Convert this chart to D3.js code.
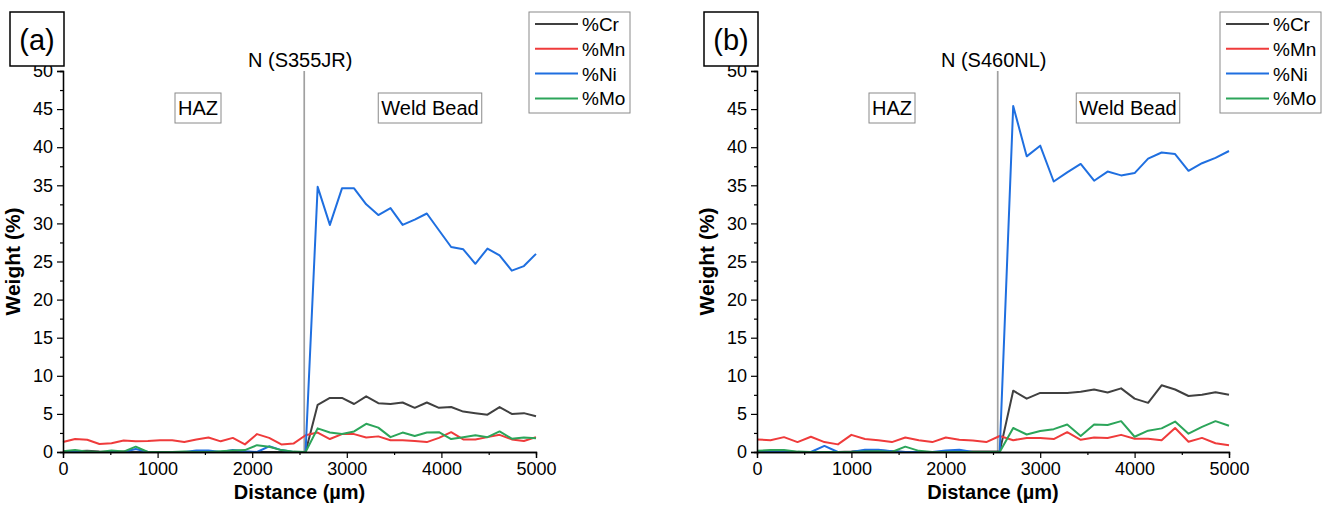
<!DOCTYPE html>
<html>
<head>
<meta charset="utf-8">
<script src="https://cdn.jsdelivr.net/npm/d3@7"></script>
<style>
  html, body { margin: 0; padding: 0; background: #fff; }
  svg { display: block; font-family: Arial, "Liberation Sans", sans-serif; }
</style>
</head>
<body>
<svg id="chart" width="1331" height="515"></svg>
<script>
// ---------------- data ----------------
const seriesNames = ["%Cr", "%Mn", "%Ni", "%Mo"];
const seriesColors = ["#404040", "#ef3b3b", "#1f6fe0", "#2ca55a"];

const distA = [0,128,256,385,513,641,769,897,1026,1154,1282,1410,1538,1667,1795,1923,2051,2179,2308,2436,
               2564,2692,2821,2949,3077,3205,3333,3462,3590,3718,3846,3974,4103,4231,4359,4487,4615,4744,4872,5000];
const crA = [0.1,0.1,0.15,0.05,0,0.05,0,0,0,0,0,0,0,0,0,0,0,0,0,0,
             0,6.2,7.1,7.1,6.3,7.3,6.4,6.3,6.5,5.8,6.5,5.8,5.9,5.3,5.1,4.9,5.9,5.0,5.1,4.7];
const mnA = [1.3,1.7,1.6,1.05,1.15,1.5,1.4,1.45,1.55,1.55,1.3,1.65,1.9,1.4,1.85,1.0,2.35,1.85,1.0,1.1,
             2.2,2.55,1.7,2.35,2.35,1.9,2.05,1.55,1.55,1.45,1.3,1.85,2.6,1.65,1.65,1.95,2.25,1.65,1.45,1.95];
const niA = [0.05,0,0,0,0,0,0.4,0,0,0,0,0.2,0.2,0,0.25,0.1,0,0.75,0.25,0,
             0,34.8,29.8,34.6,34.6,32.5,31.1,32.0,29.8,30.5,31.3,29.1,26.9,26.6,24.7,26.7,25.8,23.8,24.4,26.0];
const moA = [0.1,0.25,0.05,0,0.2,0.05,0.7,0,0,0,0.05,0,0,0.1,0.2,0.25,0.9,0.7,0.25,0.05,
             0,3.1,2.55,2.35,2.7,3.7,3.2,1.95,2.55,2.1,2.55,2.6,1.7,1.95,2.2,1.95,2.7,1.75,1.9,1.8];

const distB = [0,143,286,429,571,714,857,1000,1143,1286,1429,1571,1714,1857,2000,2143,2286,2429,2571,
               2714,2857,3000,3143,3286,3429,3571,3714,3857,4000,4143,4286,4429,4571,4714,4857,5000];
const crB = [0,0.1,0.1,0,0,0,0,0.05,0.15,0.2,0.1,0,0,0,0,0,0.05,0.05,0.05,
             8.05,7.0,7.75,7.75,7.75,7.9,8.2,7.8,8.35,7.0,6.45,8.75,8.2,7.35,7.5,7.85,7.5];
const mnB = [1.65,1.55,1.95,1.3,2.0,1.3,1.0,2.25,1.7,1.55,1.3,1.9,1.55,1.3,1.9,1.6,1.5,1.3,2.1,
             1.55,1.85,1.85,1.7,2.6,1.6,1.9,1.85,2.25,1.75,1.75,1.55,3.15,1.35,1.85,1.15,0.9];
const niB = [0,0,0,0,0,0.8,0,0,0.3,0.3,0.1,0,0,0,0.2,0.3,0,0,0,
             45.4,38.8,40.2,35.5,36.7,37.8,35.6,36.8,36.3,36.6,38.5,39.3,39.1,36.9,37.9,38.6,39.5];
const moB = [0.15,0.25,0.25,0.05,0,0,0,0,0.05,0.1,0,0.7,0.15,0,0,0,0,0,0,
             3.15,2.3,2.75,3.0,3.6,2.1,3.6,3.55,4.05,2.0,2.8,3.1,4.0,2.4,3.3,4.05,3.45];

const xTicks = [0, 1000, 2000, 3000, 4000, 5000];
const xMinorTicks = [500, 1500, 2500, 3500, 4500];
const yTicks = [0, 5, 10, 15, 20, 25, 30, 35, 40, 45, 50];
const yMinorTicks = [2.5, 7.5, 12.5, 17.5, 22.5, 27.5, 32.5, 37.5, 42.5, 47.5];
const interfacePos = 2550;

const panels = [
  { label: "(a)", steel: "N (S355JR)", dist: distA, series: [crA, mnA, niA, moA],
    left: 63, right: 536, boxX: 10, legX: 529, hazX: 198, weldX: 430 },
  { label: "(b)", steel: "N (S460NL)", dist: distB, series: [crB, mnB, niB, moB],
    left: 757, right: 1229, boxX: 704, legX: 1220, hazX: 892, weldX: 1128 }
];

// ---------------- drawing ----------------
const svg = d3.select("#chart");
const plotTop = 71, plotBottom = 452;
const tickFont = 18;

panels.forEach(p => {
  const g = svg.append("g");
  const x = d3.scaleLinear().domain([0, 5000]).range([p.left, p.right]);
  const y = d3.scaleLinear().domain([0, 50]).range([plotBottom, plotTop]);

  // interface line
  g.append("line")
    .attr("x1", x(interfacePos)).attr("x2", x(interfacePos))
    .attr("y1", y(50)).attr("y2", y(0))
    .attr("stroke", "#a0a0a0").attr("stroke-width", 1.7);

  // series lines
  const line = d3.line().x((d, i) => x(p.dist[i])).y(d => y(d));
  p.series.forEach((s, k) => {
    g.append("path").datum(s)
      .attr("d", line)
      .attr("fill", "none")
      .attr("stroke", seriesColors[k])
      .attr("stroke-width", 2)
      .attr("stroke-linejoin", "round");
  });

  // axes
  const xAxis = d3.axisBottom(x).tickValues(xTicks).tickSize(6).tickPadding(4).tickFormat(d3.format("d"));
  const xMinor = d3.axisBottom(x).tickValues(xMinorTicks).tickSize(3).tickFormat("");
  const yAxis = d3.axisLeft(y).tickValues(yTicks).tickSize(6).tickPadding(4);
  const yMinor = d3.axisLeft(y).tickValues(yMinorTicks).tickSize(3).tickFormat("");

  [xAxis, xMinor].forEach(a => {
    const ax = g.append("g").attr("transform", `translate(0,${plotBottom})`).call(a);
    ax.select(".domain").attr("stroke", "#000").attr("stroke-width", 1.3);
    ax.selectAll(".tick line").attr("stroke", "#000").attr("stroke-width", 1.2);
    ax.selectAll("text").attr("font-size", tickFont).attr("fill", "#000")
      .attr("font-family", "Arial, 'Liberation Sans', sans-serif");
  });
  [yAxis, yMinor].forEach(a => {
    const ax = g.append("g").attr("transform", `translate(${p.left},0)`).call(a);
    ax.select(".domain").attr("stroke", "#000").attr("stroke-width", 1.3);
    ax.selectAll(".tick line").attr("stroke", "#000").attr("stroke-width", 1.2);
    ax.selectAll("text").attr("font-size", tickFont).attr("fill", "#000")
      .attr("font-family", "Arial, 'Liberation Sans', sans-serif");
  });

  // axis titles
  g.append("text")
    .attr("x", (p.left + p.right) / 2).attr("y", 499)
    .attr("text-anchor", "middle").attr("font-weight", "bold").attr("font-size", 20)
    .text("Distance (µm)");
  g.append("text")
    .attr("transform", `translate(${p.left - 43},${(plotTop + plotBottom) / 2}) rotate(-90)`)
    .attr("text-anchor", "middle").attr("font-weight", "bold").attr("font-size", 21)
    .text("Weight (%)");

  // panel label box
  g.append("rect").attr("x", p.boxX).attr("y", 12).attr("width", 54).attr("height", 54)
    .attr("fill", "#fff").attr("stroke", "#000").attr("stroke-width", 1.5);
  g.append("text").attr("x", p.boxX + 27).attr("y", 50)
    .attr("text-anchor", "middle").attr("font-size", 29).text(p.label);

  // steel label
  g.append("text").attr("x", x(interfacePos) - 4).attr("y", 67)
    .attr("text-anchor", "middle").attr("font-size", 20).text(p.steel);

  // region boxes
  [[p.hazX, "HAZ"], [p.weldX, "Weld Bead"]].forEach(([cx, t]) => {
    const rect = g.append("rect");
    const txt = g.append("text").attr("x", cx).attr("y", 115)
      .attr("text-anchor", "middle").attr("font-size", 20).text(t);
    const bb = txt.node().getBBox();
    rect.attr("x", bb.x - 3).attr("y", 93).attr("width", bb.width + 6).attr("height", 30)
      .attr("fill", "#fff").attr("stroke", "#8a8a8a").attr("stroke-width", 1);
  });

  // legend
  const lg = g.append("g");
  lg.append("rect").attr("x", p.legX).attr("y", 12).attr("width", 101).attr("height", 101)
    .attr("fill", "#fff").attr("stroke", "#8a8a8a").attr("stroke-width", 1);
  seriesNames.forEach((n, k) => {
    const yy = 24 + k * 24.8;
    lg.append("line").attr("x1", p.legX + 6).attr("x2", p.legX + 49)
      .attr("y1", yy).attr("y2", yy)
      .attr("stroke", seriesColors[k]).attr("stroke-width", 2);
    lg.append("text").attr("x", p.legX + 53).attr("y", yy + 7)
      .attr("font-size", 19).text(n);
  });
});
</script>
</body>
</html>
